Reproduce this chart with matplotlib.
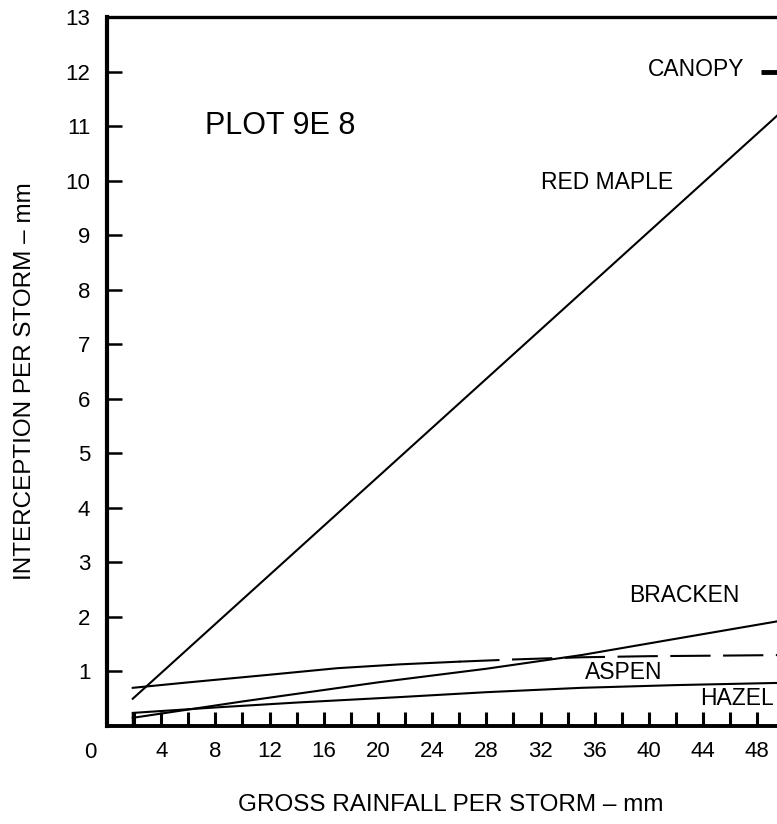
import matplotlib
matplotlib.use("Agg")
import matplotlib.pyplot as plt
from matplotlib.transforms import blended_transform_factory

plt.rcParams['font.family'] = ['Liberation Sans', 'DejaVu Sans']
plt.rcParams['lines.scale_dashes'] = False

# values (mm)
red_maple_x = [1.9, 49.5]
red_maple_y = [0.50, 11.2]

aspen_solid_x = [1.9, 6, 12, 17, 21.6, 26]
aspen_solid_y = [0.70, 0.80, 0.94, 1.06, 1.13, 1.18]
aspen_dash_x = [26, 30, 35, 40, 45, 49.5]
aspen_dash_y = [1.18, 1.22, 1.26, 1.28, 1.29, 1.30]

bracken_x = [1.9, 10, 20, 28, 35, 42, 49.5]
bracken_y = [0.15, 0.45, 0.80, 1.05, 1.30, 1.60, 1.92]

hazel_x = [1.9, 8, 14, 21.6, 28, 35, 42, 49.5]
hazel_y = [0.24, 0.34, 0.43, 0.53, 0.62, 0.70, 0.75, 0.79]

canopy_x = [48.3, 49.5]
canopy_y = [12.0, 12.0]

x_major = list(range(4, 49, 4))
x_minor = list(range(2, 49, 4))
y_major = list(range(1, 14))

labels = [
    ("PLOT 9E 8", 7.2, 11.0, 22),
    ("RED MAPLE", 32.0, 9.96, 16.5),
    ("CANOPY", 39.9, 12.04, 16.5),
    ("BRACKEN", 38.5, 2.4, 16.5),
    ("ASPEN", 35.3, 0.99, 16.5),
    ("HAZEL", 43.8, 0.51, 16.5),
]

fig = plt.figure(figsize=(7.77, 8.24), dpi=100)
ax = fig.add_axes([107 / 777, 98 / 824, 670 / 777, 709 / 824])

lw = 1.5
ax.plot(red_maple_x, red_maple_y, color='black', lw=lw)
ax.plot(aspen_solid_x, aspen_solid_y, color='black', lw=lw)
ax.plot(aspen_dash_x, aspen_dash_y, color='black', lw=lw, dashes=(29, 9))
ax.plot(bracken_x, bracken_y, color='black', lw=lw)
ax.plot(hazel_x, hazel_y, color='black', lw=lw)
ax.plot(canopy_x, canopy_y, color='black', lw=3.5, solid_capstyle='butt')
# short upright at the start of the lower curves
ax.vlines(hazel_x[0], 0, hazel_y[0], color='black', lw=2.5)

for txt, x, y, fs in labels:
    ax.text(x, y, txt, fontsize=fs, ha='left', va='center', clip_on=False)

ax.set_xlim(0, 49.45)
ax.set_ylim(0, 13)
ax.set_xticks(x_major)
ax.set_xticks(x_minor, minor=True)
ax.set_yticks(y_major)
ax.tick_params(axis='x', which='both', direction='in', length=10, width=2.2,
               labelsize=16, pad=11)
ax.tick_params(axis='y', direction='in', length=11, width=1.8,
               labelsize=16, pad=12)

ax.spines['right'].set_visible(False)
ax.spines['left'].set_linewidth(3.0)
ax.spines['bottom'].set_linewidth(2.8)
ax.spines['top'].set_linewidth(2.4)

trans = blended_transform_factory(ax.transData, ax.transAxes)
ax.text(-1.25, -0.038, "0", transform=trans, fontsize=16,
        ha='center', va='center', clip_on=False)

fig.text(25 / 777, 1 - 381 / 824, "INTERCEPTION PER STORM \u2013 mm",
         rotation=90, fontsize=17.5, ha='center', va='center')
fig.text(451 / 777, 1 - 805 / 824, "GROSS RAINFALL PER STORM \u2013 mm",
         fontsize=17.5, ha='center', va='center')

fig.savefig("out.png", dpi=100)
